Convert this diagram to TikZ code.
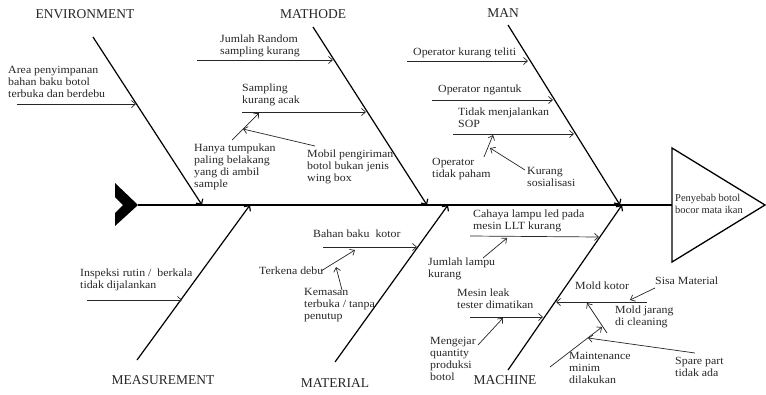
\documentclass[tikz,border=0pt]{standalone}
\usepackage{fontspec}
\setmainfont{Liberation Serif}
\newfontfamily\lblfont[FakeStretch=1.08]{Liberation Serif}
\usetikzlibrary{arrows.meta}
\begin{document}
\begin{tikzpicture}[x=1pt,y=-1pt,
  cause/.style={font={\lblfont\fontsize{11}{12}\selectfont}, align=left, anchor=north west, inner sep=0pt, text=black!85},
  head/.style={font={\fontsize{13.5}{15}\selectfont}, inner sep=0pt, text=black!85},
  bone/.style={line width=1.2pt, -{Straight Barb[length=4pt,width=8pt]}},
  sub/.style={line width=0.7pt, draw=black!85, -{Straight Barb[length=4pt,width=7pt]}}]
\useasboundingbox (0,0) rectangle (766,394);

% spine, tail and head
\coordinate (tail) at (138,205);
\coordinate (headL) at (672,205);
\coordinate (headT) at (672,148);
\coordinate (headB) at (672,262);
\coordinate (headA) at (765,205);
\fill (115,183) -- (tail) -- (115,226) -- (115,213) -- (123,205) -- (115,197) -- cycle;
\draw[line width=1.5pt] (tail) -- (headL);
\draw[line width=1.3pt, line join=miter] (headT) -- (headA) -- (headB) -- cycle;
\node[cause, font={\fontsize{10.5}{12}\selectfont}] (effect) at (675,194) {Penyebab botol\\bocor mata ikan};

% category labels
\node[head] (hEnv) at (85,14) {ENVIRONMENT};
\node[head] (hMet) at (313,14) {MATHODE};
\node[head] (hMan) at (503,13) {MAN};
\node[head] (hMea) at (163,380) {MEASUREMENT};
\node[head] (hMat) at (335,383) {MATERIAL};
\node[head] (hMac) at (505,380) {MACHINE};

% bones
\coordinate (envA) at (93,37);   \coordinate (envB) at (202,205);
\coordinate (metA) at (313,27);  \coordinate (metB) at (427,205);
\coordinate (manA) at (508,25);  \coordinate (manB) at (620,205);
\coordinate (meaA) at (137,360); \coordinate (meaB) at (250,205);
\coordinate (matA) at (335,362); \coordinate (matB) at (448,205);
\coordinate (macA) at (508,370); \coordinate (macB) at (622,205);
\draw[bone] (envA) -- (envB);
\draw[bone] (metA) -- (metB);
\draw[bone] (manA) -- (manB);
\draw[bone] (meaA) -- (meaB);
\draw[bone] (matA) -- (matB);
\draw[bone] (macA) -- (macB);

% ENVIRONMENT
\node[cause] (e1) at (8,66) {Area penyimpanan\\bahan baku botol\\terbuka dan berdebu};
\coordinate (e1a) at (17,104); \coordinate (e1b) at (136,104);
\draw[sub] (e1a) -- (e1b);

% MATHODE
\node[cause] (m1) at (220,35) {Jumlah Random\\sampling kurang};
\node[cause] (m2) at (242,84) {Sampling\\kurang acak};
\node[cause] (m3) at (194,144) {Hanya tumpukan\\paling belakang\\yang di ambil\\sample};
\node[cause] (m4) at (307,150) {Mobil pengiriman\\botol bukan jenis\\wing box};
\coordinate (m1a) at (197,60);  \coordinate (m1b) at (333,60);
\coordinate (m2a) at (242,112); \coordinate (m2b) at (366,112);
\coordinate (m3a) at (232,140); \coordinate (m3b) at (259,113);
\coordinate (m4a) at (315,146); \coordinate (m4b) at (243,129);
\draw[sub] (m1a) -- (m1b);
\draw[sub] (m2a) -- (m2b);
\draw[sub] (m3a) -- (m3b);
\draw[sub] (m4a) -- (m4b);

% MAN
\node[cause] (n1) at (413,48) {Operator kurang teliti};
\node[cause] (n2) at (438,85) {Operator ngantuk};
\node[cause] (n3) at (458,108) {Tidak menjalankan\\SOP};
\node[cause] (n4) at (432,158) {Operator\\tidak paham};
\node[cause] (n5) at (527,167) {Kurang\\sosialisasi};
\coordinate (n1a) at (407,61);  \coordinate (n1b) at (528,61);
\coordinate (n2a) at (432,100); \coordinate (n2b) at (553,100);
\coordinate (n3a) at (453,134); \coordinate (n3b) at (574,134);
\coordinate (n4a) at (484,157); \coordinate (n4b) at (493,135);
\coordinate (n5a) at (525,170); \coordinate (n5b) at (490,148);
\draw[sub] (n1a) -- (n1b);
\draw[sub] (n2a) -- (n2b);
\draw[sub] (n3a) -- (n3b);
\draw[sub] (n4a) -- (n4b);
\draw[sub] (n5a) -- (n5b);

% MEASUREMENT
\node[cause] (s1) at (80,269) {Inspeksi rutin /\ \ berkala\\tidak dijalankan};
\coordinate (s1a) at (87,300); \coordinate (s1b) at (182,300);
\draw[sub] (s1a) -- (s1b);

% MATERIAL
\node[cause] (t1) at (313,230) {Bahan baku\ \ kotor};
\node[cause] (t2) at (259,267) {Terkena debu};
\node[cause] (t3) at (304,288) {Kemasan\\terbuka / tanpa\\penutup};
\coordinate (t1a) at (323,247); \coordinate (t1b) at (417,247);
\coordinate (t2a) at (321,271); \coordinate (t2b) at (355,250);
\coordinate (t3a) at (342,290); \coordinate (t3b) at (336,267);
\draw[sub] (t1a) -- (t1b);
\draw[sub] (t2a) -- (t2b);
\draw[sub] (t3a) -- (t3b);

% MACHINE
\node[cause] (c1) at (473,210) {Cahaya lampu led pada\\mesin LLT kurang};
\node[cause] (c2) at (428,258) {Jumlah lampu\\kurang};
\node[cause] (c3) at (457,289) {Mesin leak\\tester dimatikan};
\node[cause] (c4) at (430,337) {Mengejar\\quantity\\produksi\\botol};
\node[cause] (c5) at (575,282) {Mold kotor};
\node[cause] (c6) at (655,277) {Sisa Material};
\node[cause] (c7) at (615,306) {Mold jarang\\di cleaning};
\node[cause] (c8) at (569,352) {Maintenance\\minim\\dilakukan};
\node[cause] (c9) at (675,357) {Spare part\\tidak ada};
\coordinate (c1a) at (470,236); \coordinate (c1b) at (599,237);
\coordinate (c2a) at (483,258); \coordinate (c2b) at (507,238);
\coordinate (c3a) at (470,317); \coordinate (c3b) at (543,317);
\coordinate (c4a) at (478,345); \coordinate (c4b) at (503,318);
\coordinate (c5a) at (647,302); \coordinate (c5b) at (556,302);
\coordinate (c6a) at (655,288); \coordinate (c6b) at (630,300);
\coordinate (c7a) at (607,333); \coordinate (c7b) at (587,303);
\coordinate (c8a) at (550,367); \coordinate (c8b) at (602,327);
\coordinate (c9a) at (695,353); \coordinate (c9b) at (588,338);
\draw[sub] (c1a) -- (c1b);
\draw[sub] (c2a) -- (c2b);
\draw[sub] (c3a) -- (c3b);
\draw[sub] (c4a) -- (c4b);
\draw[sub] (c5a) -- (c5b);
\draw[sub] (c6a) -- (c6b);
\draw[sub] (c7a) -- (c7b);
\draw[sub] (c8a) -- (c8b);
\draw[sub] (c9a) -- (c9b);
\end{tikzpicture}
\end{document}
